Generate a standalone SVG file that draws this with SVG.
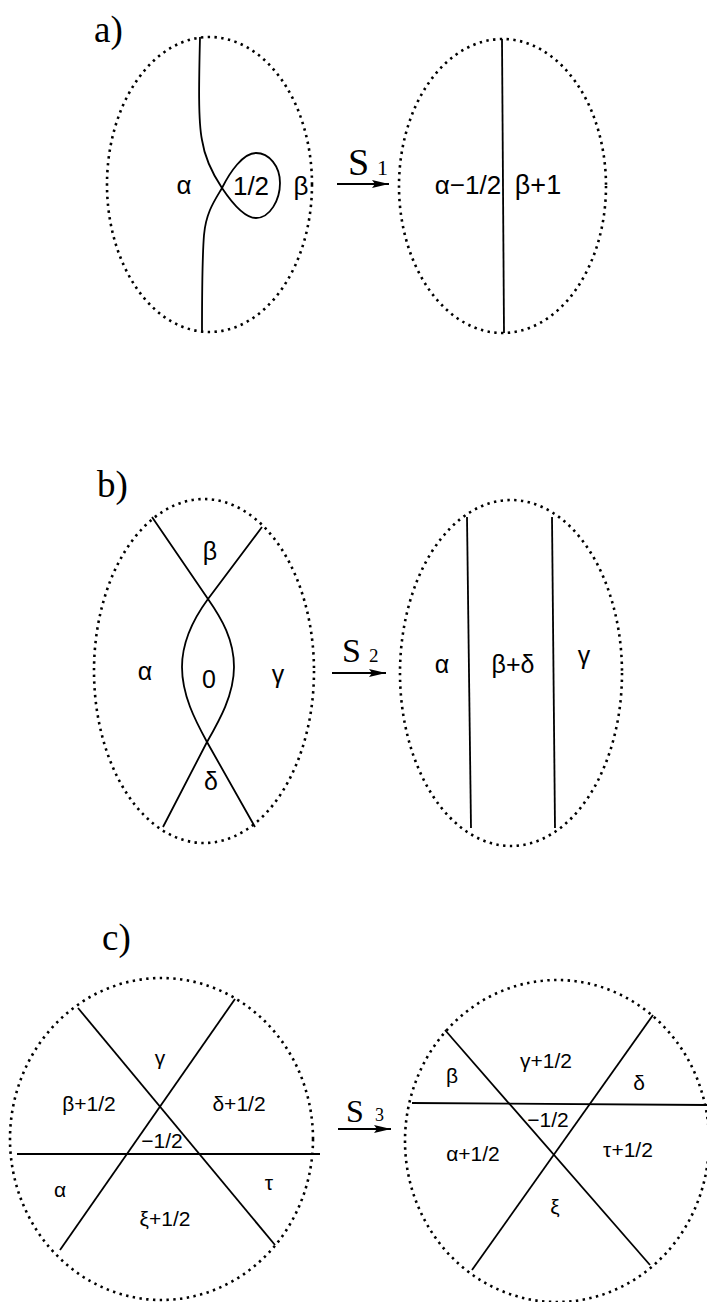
<svg xmlns="http://www.w3.org/2000/svg" width="707" height="1302" viewBox="0 0 707 1302">
<style>
.bd{fill:none;stroke:#000;stroke-width:2.6;stroke-dasharray:2.4 4.4}
.ln{fill:none;stroke:#000;stroke-width:1.8}
.lbl{font-family:"Liberation Sans",Arial,sans-serif;fill:#000;text-anchor:middle}
.big{font-family:"Liberation Serif","Times New Roman",serif;fill:#000}
.ar{stroke:#000;stroke-width:1.8}
</style>
<defs>
<marker id="ah" viewBox="0 0 17 8" refX="17" refY="4" markerWidth="17" markerHeight="8" markerUnits="userSpaceOnUse" orient="auto">
<path d="M0,0 L17,4 L0,8 L3,4 Z" fill="#000"/>
</marker>
</defs>
<rect width="707" height="1302" fill="#fff"/>

<!-- a) -->
<g id="label-a"><text class="big" x="94" y="42" font-size="37">a)</text></g>
<g id="a-left">
<ellipse class="bd" cx="209.5" cy="184.5" rx="102.5" ry="147.5"/>
<path class="ln" d="M200,37 C199,80 198,120 202,140 C205,160 214,176 222,188 C232,203 244,218 256,218 C270,218 280,200 280,183 C280,166 269,153 256,153 C243,153 230,172 222,188 C215,200 206,212 204,235 C202,260 202,300 202,332"/>
<text class="lbl" x="184" y="194" font-size="26">α</text>
<text class="lbl" x="251" y="195" font-size="26">1/2</text>
<text class="lbl" x="301" y="195" font-size="26">β</text>
</g>
<g id="a-right">
<ellipse class="bd" cx="502.5" cy="186" rx="103.5" ry="147"/>
<path class="ln" d="M502,39 L504,333"/>
<text class="lbl" x="468" y="194" font-size="26">α−1/2</text>
<text class="lbl" x="538" y="194" font-size="27">β+1</text>
</g>

<!-- b) -->
<g id="label-b"><text class="big" x="97" y="497" font-size="37">b)</text></g>
<g id="b-left">
<ellipse class="bd" cx="204" cy="671" rx="110" ry="172"/>
<path class="ln" d="M152,517 L208,599 C222,619 234,640 234,667 C234,695 219,721 207,742 L163,827"/>
<path class="ln" d="M262,527 L208,599 C194,618 182,640 182,667 C182,695 195,720 207,742 L255,827"/>
<text class="lbl" x="210" y="560" font-size="25">β</text>
<text class="lbl" x="145" y="680" font-size="25">α</text>
<text class="lbl" x="209" y="688" font-size="25">0</text>
<text class="lbl" x="278" y="683" font-size="25">γ</text>
<text class="lbl" x="211" y="790" font-size="25">δ</text>
</g>
<g id="b-right">
<ellipse class="bd" cx="511" cy="673" rx="111" ry="173"/>
<path class="ln" d="M467,517 L471,828"/>
<path class="ln" d="M552,517 L555,828"/>
<text class="lbl" x="442" y="673" font-size="25">α</text>
<text class="lbl" x="513" y="673" font-size="25">β+δ</text>
<text class="lbl" x="584" y="664" font-size="25">γ</text>
</g>

<!-- c) -->
<g id="label-c"><text class="big" x="102" y="950" font-size="37">c)</text></g>
<g id="c-left">
<ellipse class="bd" cx="161.5" cy="1139" rx="151.5" ry="161"/>
<path class="ln" d="M17,1154 L320,1154"/>
<path class="ln" d="M78,1008 L275,1245"/>
<path class="ln" d="M235,999 L60,1250"/>
<text class="lbl" x="160" y="1065" font-size="21">γ</text>
<text class="lbl" x="89" y="1111" font-size="21">β+1/2</text>
<text class="lbl" x="239" y="1111" font-size="21">δ+1/2</text>
<text class="lbl" x="162" y="1148" font-size="21">−1/2</text>
<text class="lbl" x="60" y="1197" font-size="21">α</text>
<text class="lbl" x="165" y="1226" font-size="21">ξ+1/2</text>
<text class="lbl" x="269" y="1190" font-size="21">τ</text>
</g>
<g id="c-right">
<ellipse class="bd" cx="557" cy="1141" rx="152" ry="161"/>
<path class="ln" d="M412,1103 L707,1105"/>
<path class="ln" d="M445,1030 L650,1265"/>
<path class="ln" d="M653,1015 L472,1270"/>
<text class="lbl" x="452" y="1083" font-size="21">β</text>
<text class="lbl" x="546" y="1068" font-size="21">γ+1/2</text>
<text class="lbl" x="639" y="1090" font-size="21">δ</text>
<text class="lbl" x="548" y="1127" font-size="21">−1/2</text>
<text class="lbl" x="473" y="1161" font-size="21">α+1/2</text>
<text class="lbl" x="628" y="1157" font-size="21">τ+1/2</text>
<text class="lbl" x="555" y="1214" font-size="21">ξ</text>
</g>

<!-- connectors -->
<g id="connectors">
<line class="ar" x1="337" y1="184" x2="389" y2="184" marker-end="url(#ah)"/>
<text class="big" x="348" y="175" font-size="38">S</text>
<text class="big" x="377" y="175" font-size="22">1</text>
<line class="ar" x1="332" y1="673" x2="386" y2="673" marker-end="url(#ah)"/>
<text class="big" x="342" y="662" font-size="34">S</text>
<text class="big" x="369" y="662" font-size="19">2</text>
<line class="ar" x1="338" y1="1129" x2="391" y2="1129" marker-end="url(#ah)"/>
<text class="big" x="346" y="1122" font-size="32">S</text>
<text class="big" x="375" y="1121" font-size="18">3</text>
</g>
</svg>
